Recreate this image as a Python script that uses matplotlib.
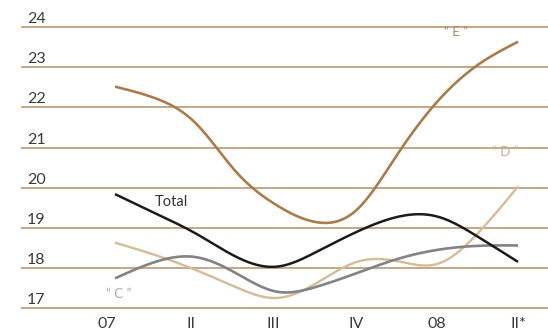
import numpy as np
import matplotlib
matplotlib.use("Agg")
import matplotlib.pyplot as plt

# quarters: 07, II, III, IV, 08, II*  (half-step readings in between)
x_labels = ["07", "II", "III", "IV", "08", "II*"]
steps = np.arange(0, 5.01, 0.5)

e_vals = [22.52, 22.23, 21.61, 20.40, 19.57, 19.14, 19.45, 20.82, 22.15, 23.06, 23.64]
total_vals = [19.84, 19.36, 18.86, 18.28, 18.03, 18.40, 18.90, 19.27, 19.28, 18.78, 18.15]
d_vals = [18.63, 18.32, 17.95, 17.52, 17.25, 17.62, 18.15, 18.17, 18.10, 18.86, 20.03]
c_vals = [17.74, 18.15, 18.27, 17.87, 17.41, 17.53, 17.87, 18.22, 18.45, 18.55, 18.56]

y_ticks = [17, 18, 19, 20, 21, 22, 23, 24]


def smooth(x, y, n=300):
    # natural cubic spline through the readings
    x = np.asarray(x, float)
    y = np.asarray(y, float)
    k = len(x)
    h = np.diff(x)
    A = np.zeros((k, k))
    b = np.zeros(k)
    A[0, 0] = A[-1, -1] = 1
    for i in range(1, k - 1):
        A[i, i - 1] = h[i - 1]
        A[i, i] = 2 * (h[i - 1] + h[i])
        A[i, i + 1] = h[i]
        b[i] = 6 * ((y[i + 1] - y[i]) / h[i] - (y[i] - y[i - 1]) / h[i - 1])
    m = np.linalg.solve(A, b)
    xs = np.linspace(x[0], x[-1], n)
    idx = np.clip(np.searchsorted(x, xs) - 1, 0, k - 2)
    x0, x1 = x[idx], x[idx + 1]
    hh = x1 - x0
    a = (x1 - xs) / hh
    c = (xs - x0) / hh
    ys = (a * y[idx] + c * y[idx + 1]
          + ((a ** 3 - a) * m[idx] + (c ** 3 - c) * m[idx + 1]) * hh ** 2 / 6)
    return xs, ys


plt.rcParams['font.family'] = ['Lato', 'DejaVu Sans']

fig = plt.figure(figsize=(5.48, 3.33), dpi=100)
ax = fig.add_axes([0, 0, 1, 1])
ax.set_xlim(-1.427, 5.372)
ax.set_ylim(16.377, 24.68)
ax.axis("off")

grid_col = "#b39067"
ax.hlines(y_ticks, -1.166, 5.372, color=grid_col, lw=1.1, zorder=1)
for v in y_ticks:
    ax.text(-1.092, v + 0.1, str(v), ha="left", va="baseline",
            fontsize=11.5, color="#3a3a3a")

tick_pos = [-0.1, 0.943, 1.96, 2.99, 3.995, 5.01]
for pos, lab in zip(tick_pos, x_labels):
    ax.text(pos, 16.6, lab, ha="center", va="center",
            fontsize=11.5, color="#3a3a3a")

series = [
    (d_vals, "#d6bb97", 1.7),
    (c_vals, "#838387", 1.9),
    (total_vals, "#1d1a1a", 1.8),
    (e_vals, "#a97d4b", 1.9),
]
for vals, col, lw in series:
    sx, sy = smooth(steps, vals)
    ax.plot(sx, sy, color=col, lw=lw, solid_capstyle="butt", zorder=3)

ax.text(4.23, 23.88, "\u201c E \u201d", ha="center", va="center",
        fontsize=9.5, color="#b48a5c")
ax.text(4.84, 20.89, "\u201c D \u201d", ha="center", va="center",
        fontsize=9.5, color="#cdb08b")
ax.text(0.05, 17.35, "\u201c C \u201d", ha="center", va="center",
        fontsize=9.5, color="#a8a8a8")
ax.text(0.49, 19.65, "Total", ha="left", va="center",
        fontsize=10.5, color="#333333")

fig.savefig("out.png", dpi=100)
